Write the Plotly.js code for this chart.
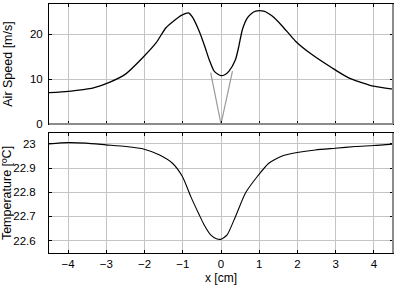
<!DOCTYPE html>
<html>
<head>
<meta charset="utf-8">
<script src="https://cdn.plot.ly/plotly-3.0.1.min.js"></script>
<style>
  html, body { margin: 0; padding: 0; background: #fff; }
  #chart { width: 399px; height: 290px; }
</style>
</head>
<body>
<div id="chart"></div>
<script>
// air speed profile (top panel)
const speedX = [-4.5, -4.0, -3.6, -3.36, -2.92, -2.49, -2.05, -1.70, -1.44, -1.18, -1.05, -0.92, -0.85, -0.75, -0.57, -0.42, -0.31, -0.18, -0.08, 0.0, 0.1, 0.21, 0.38, 0.47, 0.56, 0.69, 0.8, 0.91, 1.0, 1.12, 1.22, 1.34, 1.60, 1.95, 2.38, 2.91, 3.34, 3.95, 4.5];
const speedY = [7.0, 7.3, 7.7, 8.0, 9.3, 11.2, 14.8, 18.1, 21.5, 23.4, 24.2, 24.7, 24.8, 23.9, 20.7, 17.2, 14.4, 11.8, 11.1, 10.8, 11.0, 11.8, 14.4, 17.5, 21.1, 23.7, 24.7, 25.2, 25.3, 25.2, 24.8, 24.1, 21.9, 18.5, 15.5, 12.5, 10.3, 8.5, 7.8];

// grey V guide around x = 0
const guideX = [-0.27, 0, 0.3];
const guideY = [11.5, 0, 11.8];

// temperature profile (bottom panel)
const tempX = [-4.5, -4.01, -3.53, -3.01, -2.49, -2.01, -1.62, -1.27, -1.01, -0.79, -0.57, -0.44, -0.27, -0.12, 0.0, 0.16, 0.38, 0.64, 0.95, 1.25, 1.60, 1.99, 2.47, 2.99, 3.51, 3.99, 4.5];
const tempY = [23.0, 23.005, 23.003, 22.996, 22.989, 22.978, 22.955, 22.920, 22.865, 22.782, 22.707, 22.665, 22.624, 22.608, 22.606, 22.624, 22.700, 22.797, 22.865, 22.920, 22.950, 22.964, 22.975, 22.982, 22.989, 22.993, 22.999];

const xTicks = [-4, -3, -2, -1, 0, 1, 2, 3, 4];

const FONT = 'Liberation Sans, Arial, sans-serif';
const GREY_EDGE = '#8c8c8c';

const traces = [
  { x: guideX, y: guideY, xaxis: 'x2', yaxis: 'y2', mode: 'lines',
    line: { color: '#9a9a9a', width: 1.2 }, hoverinfo: 'skip' },
  { x: speedX, y: speedY, xaxis: 'x2', yaxis: 'y2', mode: 'lines',
    line: { color: '#000', width: 1.3, shape: 'spline', smoothing: 0.6 } },
  { x: tempX, y: tempY, xaxis: 'x', yaxis: 'y', mode: 'lines',
    line: { color: '#000', width: 1.1, shape: 'spline', smoothing: 0.6 } }
];

const axBase = {
  showline: true, mirror: 'ticks', linecolor: '#000', linewidth: 1,
  showgrid: true, gridcolor: '#c4c4c4', gridwidth: 1,
  zeroline: false, ticks: 'inside', ticklen: 3, tickcolor: '#000',
  tickfont: { family: FONT, size: 11.5, color: '#000' }
};

// grey right edges and grey bottom edge of the top panel, drawn over the black frame
const edgeShapes = [
  { type: 'line', xref: 'x2 domain', yref: 'y2 domain', x0: 0, x1: 1, y0: 0, y1: 0 },
  { type: 'line', xref: 'x2 domain', yref: 'y2 domain', x0: 1, x1: 1, y0: 0, y1: 1 },
  { type: 'line', xref: 'x domain',  yref: 'y domain',  x0: 1, x1: 1, y0: 0, y1: 1 }
].map(s => Object.assign(s, { layer: 'above', line: { color: GREY_EDGE, width: 2 } }));

const layout = {
  width: 399, height: 290,
  margin: { l: 49, r: 6, t: 4, b: 37 },
  showlegend: false,
  plot_bgcolor: '#fff', paper_bgcolor: '#fff',
  shapes: edgeShapes,
  xaxis: Object.assign({}, axBase, {
    anchor: 'y', range: [-4.5, 4.5], tickvals: xTicks,
    title: { text: 'x [cm]', font: { family: FONT, size: 12, color: '#000' }, standoff: 4 }
  }),
  xaxis2: Object.assign({}, axBase, {
    anchor: 'y2', range: [-4.5, 4.5], tickvals: xTicks, showticklabels: false
  }),
  yaxis: Object.assign({}, axBase, {
    domain: [0, 0.482], range: [22.549, 23.045], dtick: 0.1, tick0: 22.6,
    ticklabelstandoff: 10,
    title: { text: 'Temperature [ºC]', font: { family: FONT, size: 12.5, color: '#000' }, standoff: 1 }
  }),
  yaxis2: Object.assign({}, axBase, {
    domain: [0.518, 1], range: [0, 26.8], tickvals: [0, 10, 20],
    ticklabelstandoff: 3,
    title: { text: 'Air Speed [m/s]', font: { family: FONT, size: 12.5, color: '#000' }, standoff: 14 }
  })
};

Plotly.newPlot('chart', traces, layout, { displayModeBar: false, staticPlot: true });
</script>
</body>
</html>
